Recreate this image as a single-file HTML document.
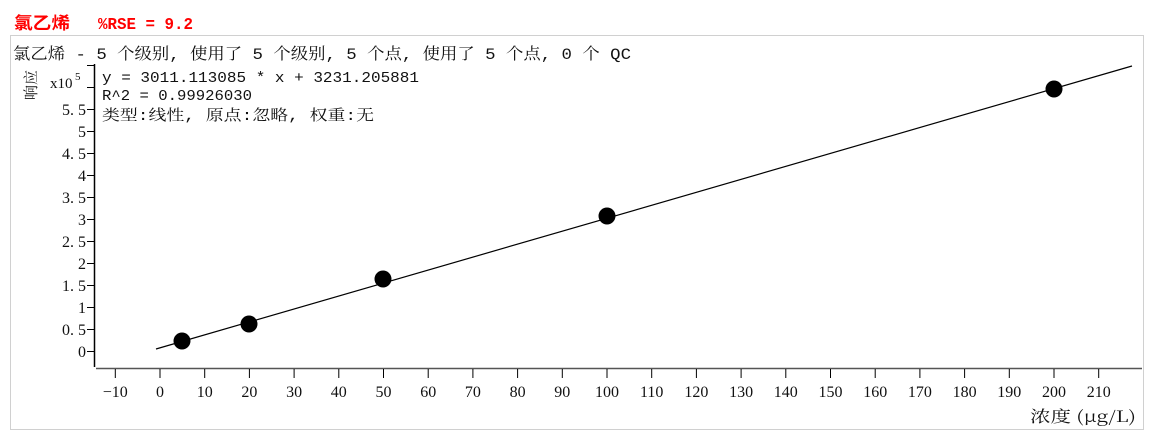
<!DOCTYPE html>
<html><head><meta charset="utf-8"><style>
body{margin:0;background:#fff;}
svg{display:block;font-family:"Liberation Serif","Noto Serif CJK SC","Noto Sans CJK SC",serif;}
</style></head><body>
<svg width="1162" height="445" viewBox="0 0 1162 445" xmlns="http://www.w3.org/2000/svg">
<text x="14" y="29" font-size="17" font-weight="bold" fill="#f00" font-family="Liberation Mono,'Noto Sans CJK SC',monospace" textLength="56" lengthAdjust="spacingAndGlyphs">氯乙烯</text>
<text x="98" y="29" font-size="17" font-weight="bold" fill="#f00" font-family="Liberation Mono,'Noto Sans CJK SC',monospace" textLength="95" lengthAdjust="spacingAndGlyphs">%RSE = 9.2</text>
<rect x="10.5" y="35.5" width="1133" height="394" fill="none" stroke="#d0d0d0"/>
<text x="13" y="59" font-size="16" fill="#111" font-family="Liberation Mono,'Noto Serif CJK SC',monospace" textLength="618" lengthAdjust="spacingAndGlyphs">氯乙烯 - 5 个级别, 使用了 5 个级别, 5 个点, 使用了 5 个点, 0 个 QC</text>
<text transform="translate(36,100) rotate(-90)" font-size="15" fill="#111" font-family="'Noto Serif CJK SC',serif">响应</text>
<text x="50" y="88" font-size="15" fill="#111">x10</text><text x="75" y="80" font-size="11" fill="#111">5</text>
<g font-size="15" fill="#111" font-family="Liberation Mono,'Noto Serif CJK SC',monospace">
<text x="102" y="82" textLength="317" lengthAdjust="spacingAndGlyphs">y = 3011.113085 * x  + 3231.205881</text>
<text x="102" y="100" textLength="150" lengthAdjust="spacingAndGlyphs">R^2 = 0.99926030</text>
<text x="102" y="120" textLength="272" lengthAdjust="spacingAndGlyphs">类型:线性, 原点:忽略, 权重:无</text>
</g>
<line x1="94.5" y1="64" x2="94.5" y2="367" stroke="#000" stroke-width="1.5"/>
<line x1="96" y1="368.5" x2="1142" y2="368.5" stroke="#555" stroke-width="1.5"/>
<g stroke="#000">
<line x1="87" y1="65.5" x2="94" y2="65.5"/><line x1="87" y1="87.5" x2="94" y2="87.5"/>
</g>
<g font-size="16" fill="#111" text-anchor="end" id="yl"></g>
<g id="xl" font-size="16" fill="#111" text-anchor="middle"></g>
<text x="1030" y="422" font-size="16" fill="#111" font-family="'Noto Serif CJK SC','Noto Sans CJK SC',serif" textLength="106" lengthAdjust="spacingAndGlyphs">浓度 (μg/L)</text>
<line x1="156" y1="349" x2="1132" y2="66" stroke="#000" stroke-width="1.2"/>
<g fill="#000">
<circle cx="182" cy="341" r="8.5"/><circle cx="249" cy="324" r="8.5"/><circle cx="383" cy="279" r="8.5"/><circle cx="607" cy="216" r="8.5"/><circle cx="1054" cy="89" r="8.5"/>
</g>
<script>
var ns="http://www.w3.org/2000/svg",yl=document.getElementById('yl'),xl=document.getElementById('xl'),svg=document.querySelector('svg');
for(var i=0;i<=11;i++){var v=i*0.5,y=351-44*v;var l=document.createElementNS(ns,'line');l.setAttribute('x1',87);l.setAttribute('x2',94);l.setAttribute('y1',y+.5);l.setAttribute('y2',y+.5);l.setAttribute('stroke','#000');svg.appendChild(l);
var t=document.createElementNS(ns,'text');t.setAttribute('x',86);t.setAttribute('y',y+6);t.textContent=(i%2?v.toFixed(1).replace('.','. '):String(v));yl.appendChild(t);}
for(var k=-10;k<=210;k+=10){var x=160+k*4.47;var l=document.createElementNS(ns,'line');l.setAttribute('x1',x);l.setAttribute('x2',x);l.setAttribute('y1',369);l.setAttribute('y2',378);l.setAttribute('stroke','#000');svg.appendChild(l);
var t=document.createElementNS(ns,'text');t.setAttribute('x',x);t.setAttribute('y',397);t.textContent=(k<0?'−'+(-k):k);xl.appendChild(t);}
</script>
</svg>
</body></html>
